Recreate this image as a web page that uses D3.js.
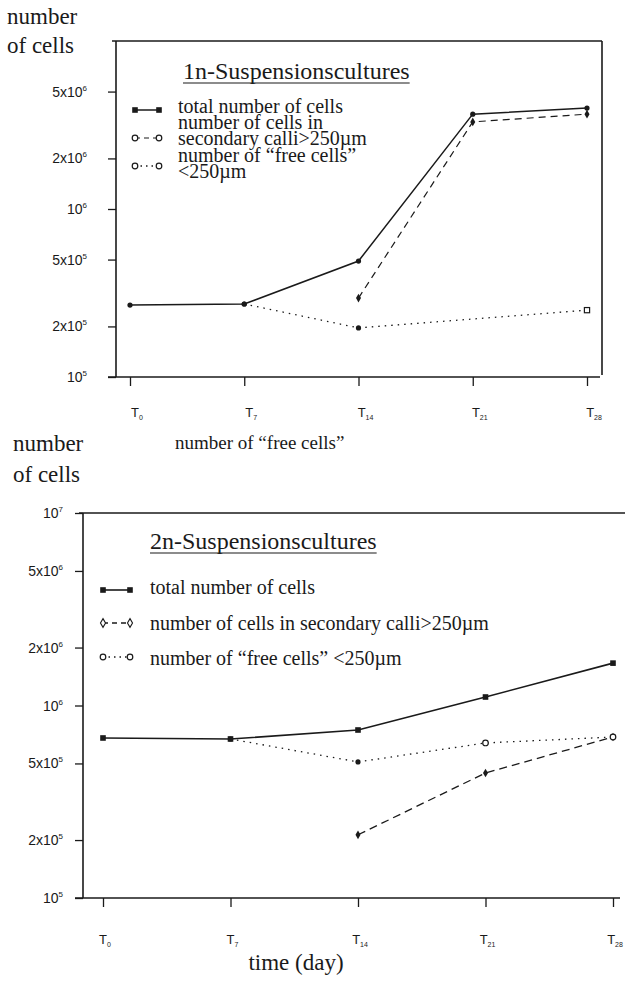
<!DOCTYPE html>
<html>
<head>
<meta charset="utf-8">
<script src="https://cdn.jsdelivr.net/npm/d3@7"></script>
<style>
  html, body { margin: 0; padding: 0; background: #fff; }
  svg { display: block; }
</style>
</head>
<body>
<svg id="chart" width="625" height="986"></svg>
<script>
// Sampling days (T0 ... T28)
const days = ["0", "7", "14", "21", "28"];

// 1n suspension cultures (cells)
const total1n = [2.68e5, 2.72e5, 4.9e5, 3.67e6, 3.99e6];
const calli1n = [null, null, 2.95e5, 3.3e6, 3.67e6];
const free1n  = [null, 2.72e5, 1.96e5, null, 2.5e5];

// 2n suspension cultures (cells)
const total2n = [6.78e5, 6.7e5, 7.46e5, 1.107e6, 1.66e6];
const calli2n = [null, null, 2.13e5, 4.46e5, 6.86e5];
const free2n  = [null, 6.7e5, 5.09e5, 6.39e5, 6.86e5];

// Y tick values
const yTicks1n = [1e5, 2e5, 5e5, 1e6, 2e6, 5e6];
const yTicks2n = [1e5, 2e5, 5e5, 1e6, 2e6, 5e6, 1e7];

// Legend texts
const legend1n = [
  ["total number of cells"],
  ["number of cells in", "secondary calli>250µm"],
  ["number of \u201cfree cells\u201d", "<250µm"]
];
const legend2n = [
  ["total number of cells"],
  ["number of cells in secondary calli>250µm"],
  ["number of \u201cfree cells\u201d <250µm"]
];

const SERIF = "'Liberation Serif', 'Times New Roman', serif";
const SANS = "'Liberation Sans', Arial, Helvetica, sans-serif";
const INK = "#1a1a1a";

const svg = d3.select("#chart");

function splitTick(v) {
  const e = Math.floor(Math.log10(v) + 1e-9);
  const m = Math.round(v / Math.pow(10, e));
  return { m, e };
}

function drawMarker(g, cx, cy, type) {
  if (type === "dot") {
    g.append("circle").attr("cx", cx).attr("cy", cy).attr("r", 2.6).attr("fill", INK);
  } else if (type === "square") {
    g.append("rect").attr("x", cx - 2.8).attr("y", cy - 2.8).attr("width", 5.6).attr("height", 5.6).attr("fill", INK);
  } else if (type === "osquare") {
    g.append("rect").attr("x", cx - 2.6).attr("y", cy - 2.6).attr("width", 5.2).attr("height", 5.2)
      .attr("fill", "#fff").attr("stroke", INK).attr("stroke-width", 1.2);
  } else if (type === "ocircle") {
    g.append("circle").attr("cx", cx).attr("cy", cy).attr("r", 2.8)
      .attr("fill", "#fff").attr("stroke", INK).attr("stroke-width", 1.2);
  } else if (type === "diamond") {
    g.append("path").attr("d", d3.symbol(d3.symbolDiamond, 22)()).attr("transform", `translate(${cx},${cy})`)
      .attr("fill", INK);
  } else if (type === "odiamond") {
    g.append("path").attr("d", d3.symbol(d3.symbolDiamond, 22)()).attr("transform", `translate(${cx},${cy})`)
      .attr("fill", "#fff").attr("stroke", INK).attr("stroke-width", 1.1);
  }
}

function panel(cfg) {
  const g = svg.append("g");
  const x = d3.scalePoint().domain(days).range(cfg.xRange);
  const y = d3.scaleLog().domain([1e5, 1e7]).range(cfg.yRange);
  const [y0, y1] = cfg.yRange;

  // frame
  g.append("line").attr("x1", cfg.frameLeft - 4).attr("x2", cfg.frameRight)
    .attr("y1", y1).attr("y2", y1).attr("stroke", INK).attr("stroke-width", 1.6);
  g.append("line").attr("x1", cfg.frameLeft - 8).attr("x2", cfg.axisRight)
    .attr("y1", y0).attr("y2", y0).attr("stroke", INK).attr("stroke-width", 1.6);
  g.append("line").attr("x1", cfg.frameLeft).attr("x2", cfg.frameLeft)
    .attr("y1", y1).attr("y2", y0).attr("stroke", INK).attr("stroke-width", 1.6);
  if (cfg.rightBorder) {
    g.append("line").attr("x1", cfg.frameRight).attr("x2", cfg.frameRight)
      .attr("y1", y1).attr("y2", y0 - 2).attr("stroke", INK).attr("stroke-width", 1.6);
  }

  // y axis ticks
  const ya = g.append("g").attr("transform", `translate(${cfg.frameLeft},0)`)
    .call(d3.axisLeft(y).tickValues(cfg.yTicks).tickSize(8).tickFormat(""));
  ya.select(".domain").remove();
  ya.selectAll(".tick line").attr("stroke", INK).attr("stroke-width", 1.3);

  cfg.yTicks.forEach(v => {
    const { m, e } = splitTick(v);
    const t = g.append("text")
      .attr("x", cfg.frameLeft - cfg.yLabelGap).attr("y", y(v) + 5)
      .attr("text-anchor", "end")
      .attr("font-family", SANS).attr("font-size", 14).attr("fill", INK);
    t.append("tspan").text(m === 1 ? "10" : `${m}x10`);
    t.append("tspan").attr("dy", -6).attr("font-size", 8).text(e);
  });

  // x axis ticks
  const xa = g.append("g").attr("transform", `translate(0,${y0})`)
    .call(d3.axisBottom(x).tickSize(9).tickFormat(""));
  xa.select(".domain").remove();
  xa.selectAll(".tick line").attr("stroke", INK).attr("stroke-width", 1.3);

  days.forEach(d => {
    const t = g.append("text")
      .attr("x", x(d) + cfg.xLabelShift).attr("y", y0 + cfg.xLabelDy)
      .attr("text-anchor", "middle")
      .attr("font-family", SANS).attr("font-size", 13).attr("fill", INK);
    t.append("tspan").text("T");
    t.append("tspan").attr("dy", 3).attr("font-size", 7).text(d);
  });

  // series
  const line = d3.line().x(d => x(d.day)).y(d => y(d.v));
  const toPts = arr => arr.map((v, i) => ({ day: days[i], v })).filter(d => d.v != null);

  cfg.series.forEach(s => {
    const pts = toPts(s.values);
    g.append("path").datum(pts).attr("d", line)
      .attr("fill", "none").attr("stroke", INK)
      .attr("stroke-width", s.width).attr("stroke-dasharray", s.dash || null);
    pts.forEach(p => {
      const mk = s.markers ? s.markers[days.indexOf(p.day)] : s.marker;
      if (!mk) return;
      drawMarker(g, x(p.day), y(p.v), mk);
    });
  });

  // legend
  const lg = g.append("g");
  const title = lg.append("text")
    .attr("x", cfg.titleX).attr("y", cfg.titleY)
    .attr("font-family", SERIF).attr("font-size", 24).attr("fill", INK)
    .text(cfg.title);
  const tw = title.node().getComputedTextLength();
  lg.append("line").attr("x1", cfg.titleX).attr("x2", cfg.titleX + tw)
    .attr("y1", cfg.titleY + 4).attr("y2", cfg.titleY + 4)
    .attr("stroke", INK).attr("stroke-width", 1.2);

  cfg.legend.forEach((row, i) => {
    const s = cfg.series[i];
    const sy = cfg.legendSymY[i];
    lg.append("line").attr("x1", cfg.legSymX[0]).attr("x2", cfg.legSymX[1])
      .attr("y1", sy).attr("y2", sy).attr("stroke", INK)
      .attr("stroke-width", s.width).attr("stroke-dasharray", s.legDash || s.dash || null);
    drawMarker(lg, cfg.legSymX[0], sy, s.legMarker);
    drawMarker(lg, cfg.legSymX[1], sy, s.legMarker);
    row.forEach((txt, j) => {
      lg.append("text")
        .attr("x", cfg.legTextX).attr("y", cfg.legendTextY[i] + j * cfg.legLine)
        .attr("font-family", SERIF).attr("font-size", 20).attr("fill", INK)
        .text(txt);
    });
  });
  return { x, y };
}

// ---- 1n panel ----
panel({
  xRange: [130, 587], yRange: [377, 41],
  frameLeft: 116, frameRight: 602, axisRight: 600, rightBorder: true,
  yTicks: yTicks1n, yLabelGap: 29, xLabelDy: 40, xLabelShift: 7,
  title: "1n-Suspensionscultures", titleX: 183, titleY: 79,
  legend: legend1n, legTextX: 178, legendTextY: [113, 129, 162], legLine: 15.5,
  legendSymY: [110, 138, 166], legSymX: [135, 159],
  series: [
    { values: total1n, width: 1.5, marker: "dot", legMarker: "square" },
    { values: calli1n, width: 1.2, dash: "7,5", marker: "diamond", legMarker: "ocircle", legDash: "5,4" },
    { values: free1n, width: 1.3, dash: "1.5,5", markers: [null, "dot", "dot", null, "osquare"], legMarker: "ocircle", legDash: "1.5,4" }
  ]
});

// ---- 2n panel ----
panel({
  xRange: [103, 613], yRange: [898, 513],
  frameLeft: 83, frameRight: 625, axisRight: 620, rightBorder: false,
  yTicks: yTicks2n, yLabelGap: 20, xLabelDy: 46, xLabelShift: 2,
  title: "2n-Suspensionscultures", titleX: 150, titleY: 549,
  legend: legend2n, legTextX: 150, legendTextY: [594, 630, 665], legLine: 20,
  legendSymY: [590, 623, 657], legSymX: [103, 130],
  series: [
    { values: total2n, width: 1.6, marker: "square", legMarker: "square" },
    { values: calli2n, width: 1.3, dash: "8,5", marker: "diamond", legMarker: "odiamond", legDash: "5,4" },
    { values: free2n, width: 1.3, dash: "1.5,5", markers: [null, "dot", "dot", "ocircle", "ocircle"], legMarker: "ocircle", legDash: "1.5,4" }
  ]
});

// Axis captions
function caption(lines, x, y, lh) {
  lines.forEach((l, i) => {
    svg.append("text").attr("x", x).attr("y", y + i * lh)
      .attr("font-family", SERIF).attr("font-size", 23).attr("fill", INK).text(l);
  });
}
caption(["number", "of cells"], 7, 24, 29);
caption(["number", "of cells"], 13, 451, 31);

svg.append("text").attr("x", 175).attr("y", 449)
  .attr("font-family", SERIF).attr("font-size", 19).attr("fill", INK)
  .text("number of \u201cfree cells\u201d");

svg.append("text").attr("x", 296).attr("y", 970)
  .attr("text-anchor", "middle")
  .attr("font-family", SERIF).attr("font-size", 23).attr("fill", INK)
  .text("time (day)");
</script>
</body>
</html>
